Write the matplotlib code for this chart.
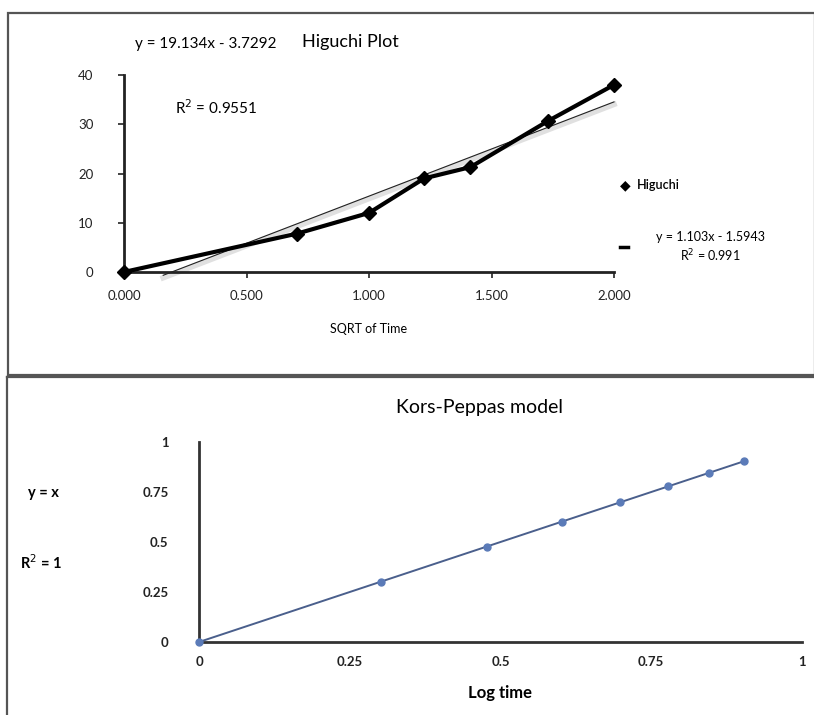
import numpy as np
import matplotlib.pyplot as plt
from matplotlib.patches import Rectangle
from matplotlib.lines import Line2D

plt.rcParams['font.family'] = ['Lato', 'DejaVu Sans']

# Higuchi: cumulative release vs square root of time
sqrt_time = [0.000, 0.707, 1.000, 1.225, 1.414, 1.732, 2.000]
release = [0.0, 7.8, 12.0, 19.0, 21.3, 30.7, 38.0]
hig_slope, hig_icpt = 19.134, -3.7292

# Korsmeyer-Peppas: log values
log_time = [0.0, 0.301, 0.477, 0.602, 0.699, 0.778, 0.845, 0.903]
log_release = [0.0, 0.301, 0.477, 0.602, 0.699, 0.778, 0.845, 0.903]

W, H = 814, 715
fig = plt.figure(figsize=(W / 100, H / 100), dpi=100)


def px_axes(x0, x1, ytop, ybot):
    return fig.add_axes([x0 / W, 1 - ybot / H, (x1 - x0) / W, (ybot - ytop) / H])


def ftext(x, y, s, **kw):
    fig.text(x / W, 1 - y / H, s, **kw)


# panel frames
fig.patches.append(Rectangle((8 / W, 1 - 375 / H), (W - 7) / W, 362 / H,
                             transform=fig.transFigure, fill=False,
                             edgecolor='#555555', lw=1.6))
fig.add_artist(Line2D([7 / W, 7 / W], [0, 1 - 377 / H], color='#555555', lw=1.6))
fig.add_artist(Line2D([7 / W, 1], [1 - 377 / H, 1 - 377 / H], color='#555555', lw=1.6))

# ---- Higuchi plot ----
ax1 = px_axes(124, 614, 75, 272)
xt = np.array([0.16, 2.0])
ax1.plot(xt, hig_slope * xt + hig_icpt - 0.5, color='#e0e0e0', lw=4, clip_on=False, zorder=1)
ax1.plot(xt, hig_slope * xt + hig_icpt, color='#222222', lw=0.8, clip_on=False, zorder=2)
ax1.plot(sqrt_time, release, color='black', lw=3, marker='D', ms=7,
         clip_on=False, zorder=3)
ax1.set_xlim(0, 2)
ax1.set_ylim(0, 40)
ax1.set_xticks(np.arange(0, 2.01, 0.5))
ax1.set_xticklabels([f'{v:.3f}' for v in np.arange(0, 2.01, 0.5)])
ax1.set_yticks(range(0, 41, 10))
for s in ['top', 'right']:
    ax1.spines[s].set_visible(False)
for s in ['left', 'bottom']:
    ax1.spines[s].set_linewidth(2)
    ax1.spines[s].set_color('#222222')
ax1.tick_params(axis='both', direction='out', length=4, width=1.2,
                labelsize=9.5, colors='#222222')
ax1.tick_params(axis='y', pad=18)
ax1.tick_params(axis='x', pad=9)
ax1.set_xlabel('SQRT of Time', fontsize=9, labelpad=15)

ftext(135, 44, 'y = 19.134x - 3.7292', fontsize=11, va='center')
ftext(350, 42, 'Higuchi Plot', fontsize=13, va='center', ha='center')
ftext(175, 108, 'R$^2$ = 0.9551', fontsize=11, va='center')

# legend entries on the right
ftext(625, 185, '\u25c6', fontsize=10, va='center', ha='center')
ftext(637, 185, 'Higuchi', fontsize=9, va='center', fontweight='semibold')
fig.add_artist(Line2D([620 / W, 628 / W], [1 - 247 / H] * 2, color='black', lw=2.5))
ftext(710, 237, 'y = 1.103x - 1.5943', fontsize=9, va='center', ha='center')
ftext(710, 256, 'R$^2$ = 0.991', fontsize=9, va='center', ha='center')

# ---- Korsmeyer-Peppas plot ----
ax2 = px_axes(199, 802, 442, 642)
ax2.plot(log_time, log_release, color='#4a5f8c', lw=1.4, marker='o', ms=5,
         mfc='#5b7bb8', mec='#5b7bb8', clip_on=False, zorder=3)
ax2.set_xlim(0, 1)
ax2.set_ylim(0, 1)
ax2.set_xticks([0, 0.25, 0.5, 0.75, 1])
ax2.set_xticklabels(['0', '0.25', '0.5', '0.75', '1'])
ax2.set_yticks([0, 0.25, 0.5, 0.75, 1])
ax2.set_yticklabels(['0', '0.25', '0.5', '0.75', '1'])
for s in ['top', 'right']:
    ax2.spines[s].set_visible(False)
for s in ['left', 'bottom']:
    ax2.spines[s].set_linewidth(2)
    ax2.spines[s].set_color('#333333')
ax2.tick_params(axis='both', length=0, labelsize=9.5, colors='#222222')
ax2.tick_params(axis='y', pad=22)
ax2.tick_params(axis='x', pad=10)
for lab in ax2.get_xticklabels() + ax2.get_yticklabels():
    lab.set_fontweight('bold')
ax2.set_xlabel('Log time', fontsize=12, fontweight='bold', labelpad=12)

ftext(480, 408, 'Kors-Peppas model', fontsize=14, va='center', ha='center')
ftext(28, 493, 'y = x', fontsize=10.5, fontweight='bold', va='center')
ftext(20, 563, 'R$^2$ = 1', fontsize=10.5, fontweight='bold', va='center')

fig.savefig('out.png', dpi=100)
